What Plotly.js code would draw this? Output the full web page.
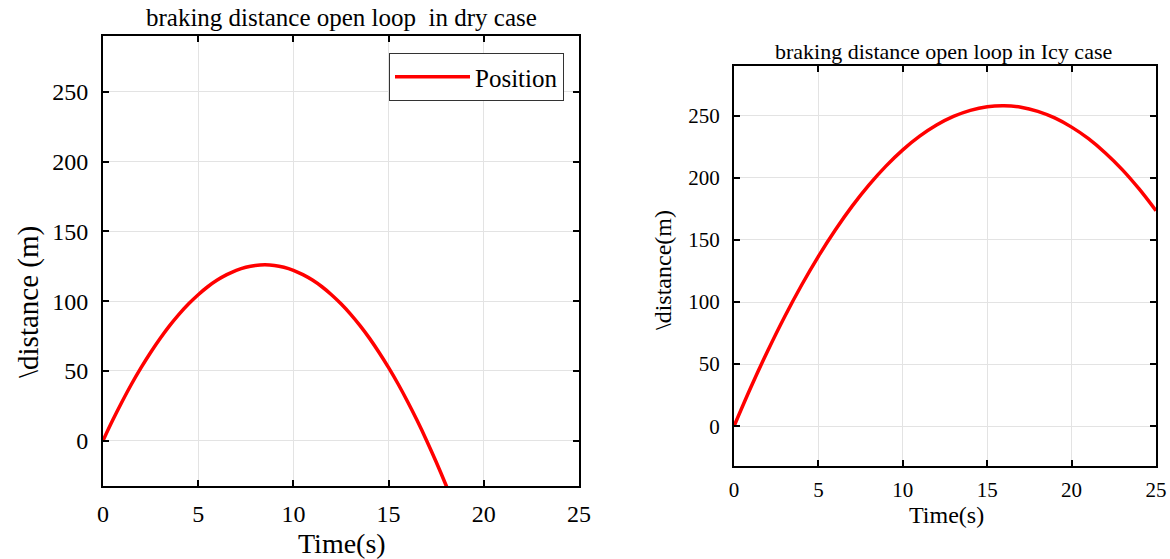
<!DOCTYPE html>
<html>
<head>
<meta charset="utf-8">
<script src="https://cdn.plot.ly/plotly-3.0.1.min.js"></script>
<style>html,body{margin:0;padding:0;background:#fff;}#chart{width:1170px;height:559px;}</style>
</head>
<body>
<div id="chart"></div>
<script>
// Dry case
const dryTime = [0,0.5,1,1.5,2,2.5,3,3.5,4,4.5,5,5.5,6,6.5,7,7.5,8,8.5,9,9.5,10,10.5,11,11.5,12,12.5,13,13.5,14,14.5,15,15.5,16,16.5,17,17.5,18,18.5];
const dryPos = [0,14.4,27.9,40.6,52.3,63.2,73.2,82.4,90.7,98.1,104.6,110.3,115.1,119.0,122.1,124.3,125.6,126.0,125.6,124.3,122.1,119.0,115.1,110.3,104.6,98.1,90.7,82.4,73.3,63.2,52.3,40.6,27.9,14.4,0,-15.3,-31.4,-48.4];
// Icy case
const icyTime = [0,1,2,3,4,5,6,7,8,9,10,11,12,13,14,15,16,17,18,19,20,21,22,23,24,25];
const icyPos = [0,31.4,60.8,88.2,113.5,136.8,158.0,177.2,194.3,209.4,222.5,233.5,242.5,249.4,254.3,257.2,258.0,256.8,253.5,248.2,240.8,231.5,220.0,206.6,191.0,173.5];
const xTicks = [0,5,10,15,20,25];
const yTicks = [0,50,100,150,200,250];

const W = 1170, H = 559;
const px = v => v / W;
const py = v => 1 - v / H;
const serif = "Liberation Serif";

function axisCommon(fs, sx) {
  return {
    showline: true, linecolor: '#000', linewidth: 2, mirror: 'ticks',
    ticks: 'inside', ticklen: 6, tickwidth: 2, tickcolor: '#000',
    showgrid: true, gridcolor: '#e3e3e3', gridwidth: 1, zeroline: false,
    ticklabelstandoff: sx,
    tickfont: {family: serif, size: fs, color: '#000'}
  };
}

const traces = [
  {x: dryTime, y: dryPos, xaxis: 'x', yaxis: 'y', type: 'scatter', mode: 'lines',
   line: {color: '#ff0000', width: 3.5, shape: 'spline'}, name: 'Position', showlegend: true},
  {x: icyTime, y: icyPos, xaxis: 'x2', yaxis: 'y2', type: 'scatter', mode: 'lines',
   line: {color: '#ff0000', width: 3.5, shape: 'spline'}, name: 'Position', showlegend: false}
];

const layout = {
  width: W, height: H,
  margin: {l: 0, r: 0, t: 0, b: 0},
  paper_bgcolor: '#fff', plot_bgcolor: '#fff',
  showlegend: true,
  legend: {x: px(564), y: py(53), xanchor: 'right', yanchor: 'top',
           bgcolor: '#fff', bordercolor: '#333', borderwidth: 1, itemwidth: 75,
           font: {family: serif, size: 25, color: '#000'}},
  xaxis: Object.assign(axisCommon(24, 5), {domain: [px(103), px(579)], range: [0, 25], tickvals: xTicks, anchor: 'y'}),
  yaxis: Object.assign(axisCommon(24, 8), {domain: [py(486), py(36)], range: [-32.5, 290], tickvals: yTicks, anchor: 'x'}),
  xaxis2: Object.assign(axisCommon(21, 4), {domain: [px(734), px(1156)], range: [0, 25], tickvals: xTicks, anchor: 'y2'}),
  yaxis2: Object.assign(axisCommon(21, 8), {domain: [py(466), py(66)], range: [-32, 290], tickvals: yTicks, anchor: 'x2'}),
  annotations: [
    {text: 'braking distance open loop  in dry case', xref: 'paper', yref: 'paper', x: px(341), y: py(18),
     xanchor: 'center', yanchor: 'middle', showarrow: false, font: {family: serif, size: 25, color: '#000'}},
    {text: 'braking distance open loop in Icy case', xref: 'paper', yref: 'paper', x: px(943), y: py(52),
     xanchor: 'center', yanchor: 'middle', showarrow: false, font: {family: serif, size: 22, color: '#000'}},
    {text: 'Time(s)', xref: 'paper', yref: 'paper', x: px(342), y: py(543),
     xanchor: 'center', yanchor: 'middle', showarrow: false, font: {family: serif, size: 28, color: '#000'}},
    {text: 'Time(s)', xref: 'paper', yref: 'paper', x: px(946), y: py(515),
     xanchor: 'center', yanchor: 'middle', showarrow: false, font: {family: serif, size: 24, color: '#000'}},
    {text: '\\distance (m)', xref: 'paper', yref: 'paper', x: px(28), y: py(302), textangle: -90,
     xanchor: 'center', yanchor: 'middle', showarrow: false, font: {family: serif, size: 29, color: '#000'}},
    {text: '\\distance(m)', xref: 'paper', yref: 'paper', x: px(663), y: py(270), textangle: -90,
     xanchor: 'center', yanchor: 'middle', showarrow: false, font: {family: serif, size: 24, color: '#000'}}
  ]
};

Plotly.newPlot('chart', traces, layout, {displayModeBar: false, staticPlot: true});
</script>
</body>
</html>
